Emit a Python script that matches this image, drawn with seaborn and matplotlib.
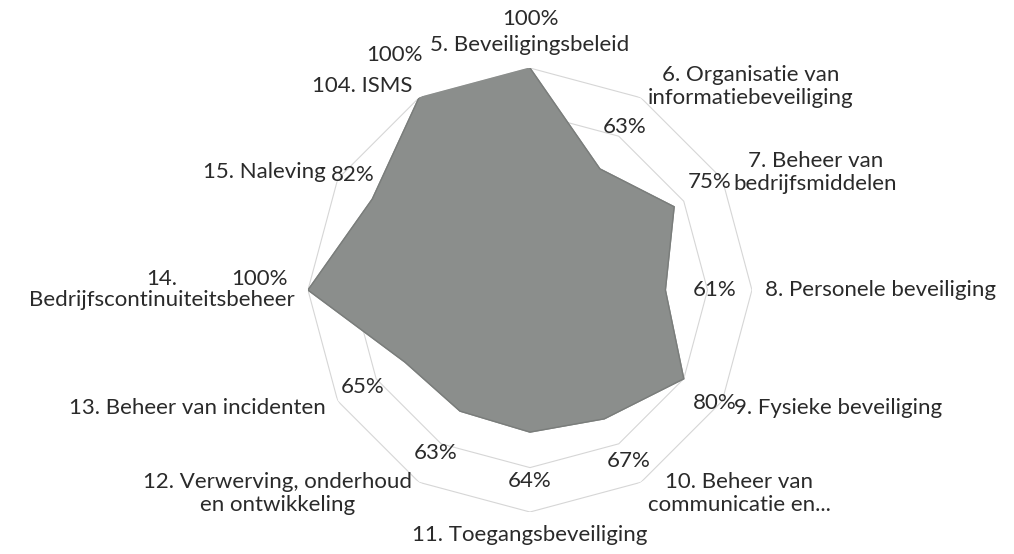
import numpy as np
import matplotlib
matplotlib.use("Agg")
from matplotlib import pyplot as plt
import seaborn as sb

# Categories (clockwise from the top) and their scores
categories = [
    "5. Beveiligingsbeleid",
    "6. Organisatie van\ninformatiebeveiliging",
    "7. Beheer van\nbedrijfsmiddelen",
    "8. Personele beveiliging",
    "9. Fysieke beveiliging",
    "10. Beheer van\ncommunicatie en...",
    "11. Toegangsbeveiliging",
    "12. Verwerving, onderhoud\nen ontwikkeling",
    "13. Beheer van incidenten",
    "14.\nBedrijfscontinuiteitsbeheer",
    "15. Naleving",
    "104. ISMS",
]
scores = [1.00, 0.63, 0.75, 0.61, 0.80, 0.67, 0.64, 0.63, 0.65, 1.00, 0.82, 1.00]
ring_levels = [0.2, 0.4, 0.6, 0.8, 1.0]

# small nudges (points) for value labels that would sit on top of a category label
label_nudge = {2: (-5, 0), 4: (-8, 0), 9: (0, 8), 10: (16, 0)}

sb.set_theme(style="white")
plt.rcParams['font.family'] = ['Lato', 'DejaVu Sans']
text_color = "#2a2a2a"
fs = 16

n = len(categories)
theta = np.linspace(0, 2 * np.pi, n, endpoint=False)
theta_closed = np.append(theta, theta[0])
scores_closed = np.append(scores, scores[0])

fig = plt.figure(figsize=(10.14, 5.54), dpi=100)
ax = fig.add_axes([0.3037, 0.0758, 0.4379, 0.8014], projection="polar")
ax.set_theta_zero_location("N")
ax.set_theta_direction(-1)

# Polygon gridlines (faint)
for lvl in ring_levels:
    ax.plot(theta_closed, [lvl] * (n + 1), color="#d6d6d6", linewidth=0.8, zorder=1)

# Filled radar area
ax.fill(theta, scores, color="#8b8e8c", zorder=2)
sb.lineplot(x=theta_closed, y=scores_closed, ax=ax, sort=False,
            color="#7a7d7b", linewidth=1.0, zorder=3)

ax.set_ylim(0, 1)
ax.grid(False)
ax.set_xticks([])
ax.set_yticks([])
ax.spines["polar"].set_visible(False)
ax.set_xlabel("")
ax.set_ylabel("")

# Value labels
for i, (t, v) in enumerate(zip(theta, scores)):
    ax.annotate(f"{v:.0%}", xy=(t, v + 0.22), xytext=label_nudge.get(i, (0, 0)),
                textcoords="offset points", ha="center", va="center",
                fontsize=fs, color=text_color, zorder=5, annotation_clip=False)

# Category labels
for t, lab in zip(theta, categories):
    deg = np.degrees(t) % 360
    if deg < 1 or abs(deg - 180) < 1:
        ha = "center"
        va = "bottom" if deg < 1 else "top"
    elif deg < 180:
        ha, va = "left", "center"
    else:
        ha, va = "right", "center"
    if abs(deg - 270) < 1:
        # number on its own line, centred above the long name
        first, second = lab.split("\n")
        long_txt = ax.text(t, 1.06, second, ha="right", va="top", fontsize=fs,
                           color=text_color, zorder=5)
        ax.annotate(first, xy=(0.5, 1.0), xycoords=long_txt, xytext=(0, 1),
                    textcoords="offset points", ha="center", va="bottom",
                    fontsize=fs, color=text_color, zorder=5)
        continue
    ax.text(t, 1.06, lab, ha=ha, va=va, multialignment="center",
            fontsize=fs, color=text_color, linespacing=1.2, zorder=5)

fig.savefig("out.png", dpi=100, facecolor="white")
